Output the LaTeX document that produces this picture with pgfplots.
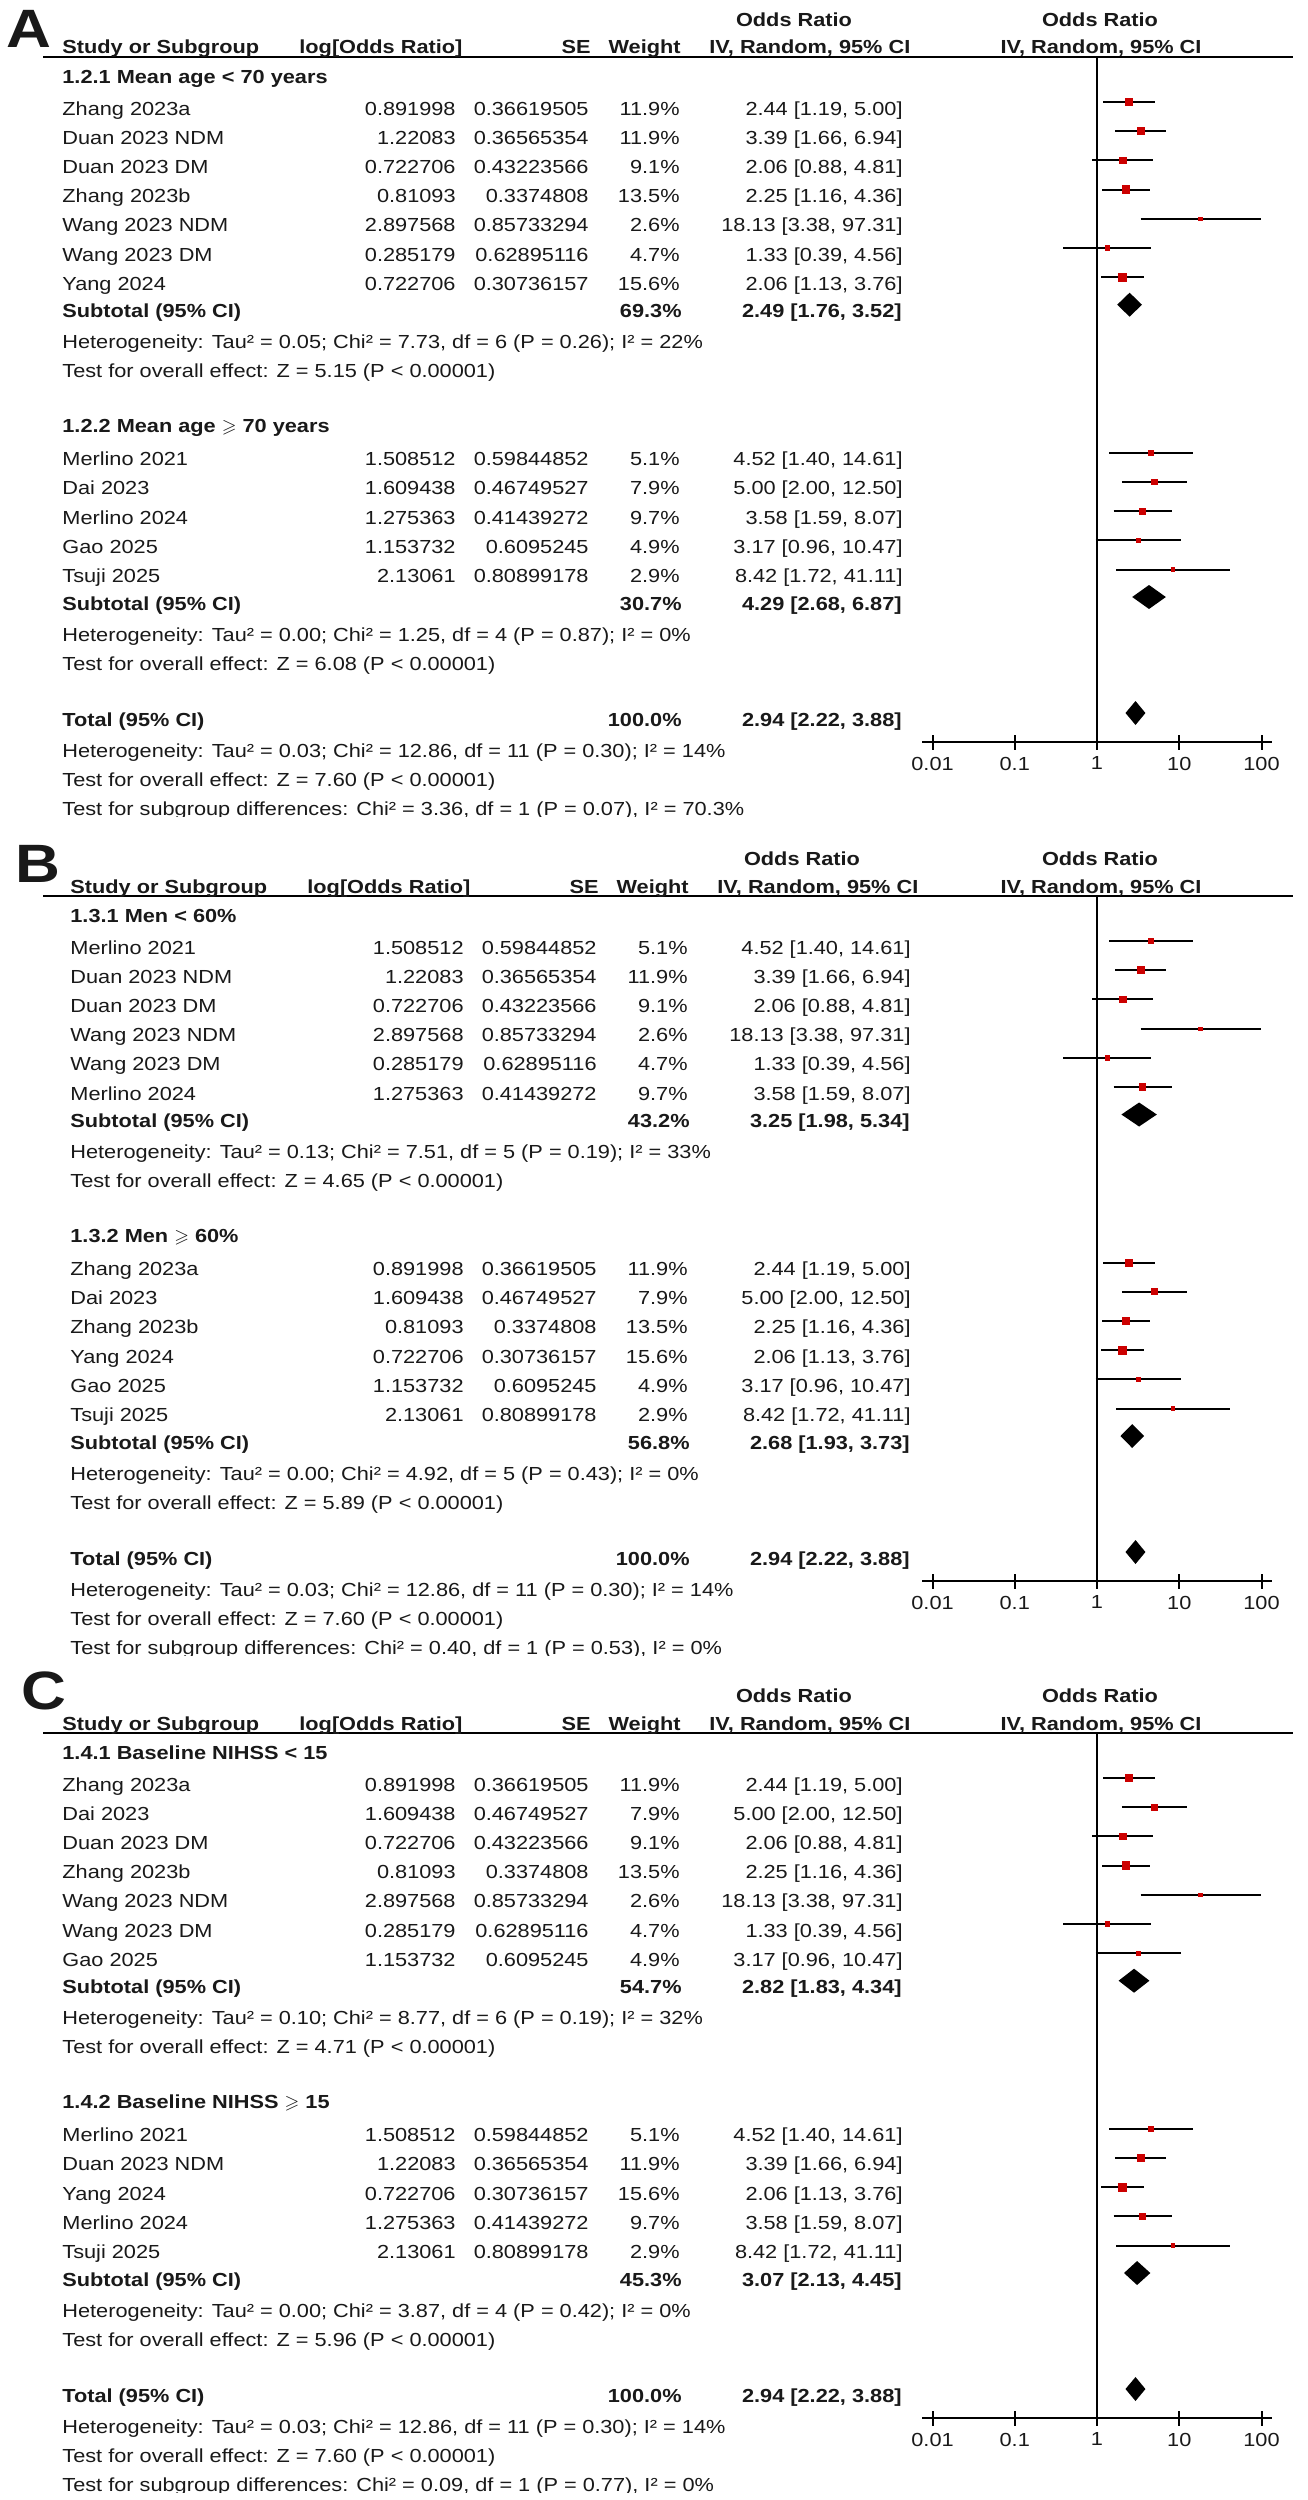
\documentclass[border=0pt]{standalone}
\usepackage{fontspec}
\setmainfont{Liberation Sans}[FakeStretch=1.15]
\usepackage{amssymb}
\usepackage{pgfplots}
\pgfplotsset{compat=1.18}

\definecolor{orred}{RGB}{204,0,0}
\definecolor{txt}{RGB}{25,25,25}
\newcommand{\fs}{\fontsize{9.45}{11}\selectfont}
\newcommand{\gsl}{\ensuremath{\geqslant}}

% text helpers, coordinates in pixels of the reference (y downwards)
\newcommand{\putl}[3]{\node[anchor=base west] at (#1,#2) {#3};}
\newcommand{\putr}[3]{\node[anchor=base east] at (#1,#2) {#3};}
\newcommand{\study}[6]{%
  \putl{62}{#1}{#2}\putr{456}{#1}{#3}\putr{589}{#1}{#4}%
  \putr{680}{#1}{#5\%}\putr{903}{#1}{#6}}
\newcommand{\subrow}[4]{%
  \putl{62}{#1}{\bfseries #2}\putr{682}{#1}{\bfseries #3}\putr{902}{#1}{\bfseries #4}}
\newcommand{\panelhead}[5]{% letter, letter x, letter baseline, U, dx
  \node[anchor=base west,font=\bfseries\fontsize{27}{27}\selectfont] at (#2,#3) {#1};
  \draw[line width=1pt] (43,#4) -- (1293,#4);
  \node[anchor=base,font=\fs\bfseries] at (1100,#4-31) {Odds Ratio};
  \node[anchor=base,font=\fs\bfseries] at (1101,#4-3) {IV, Random, 95\% CI};
  \begin{scope}[shift={(#5,#4)}]
    \putl{62}{-3}{\bfseries Study or Subgroup}
    \putl{299}{-3}{\bfseries log[Odds Ratio]}
    \putr{591}{-3}{\bfseries SE}
    \putr{681}{-3}{\bfseries Weight}
    \putl{709}{-3}{\bfseries IV, Random, 95\% CI}
    \node[anchor=base,font=\fs\bfseries] at (794,-31) {Odds Ratio};
  \end{scope}}
\newcommand{\lastline}[1]{%
  \begin{scope}\clip (0,700) rectangle (1307,759.5);
  \putl{62}{758}{#1}\end{scope}}

% common settings of the three forest plots
\pgfplotsset{
  scale only axis, width=175pt, height=342.5pt,
  xmin=0.00745, xmax=134.2, enlargelimits=false, clip=false,
  axis x line*=bottom, axis y line=none, ytick=\empty,
  xtick={0.01,0.1,1,10,100}, xticklabels={0.01,0.1,1,10,100},
  tick align=center, major tick length=7.5pt,
  every tick/.style={black, line width=1pt},
  axis line style={black, line width=1pt},
  xticklabel style={font=\fs, text=txt, inner sep=0pt, anchor=north, yshift=-3.5pt},
  ci/.style={black, line width=1pt, no markers},
  sq/.style={only marks, color=orred, mark=square*, mark options={fill=orred, draw=none}},
  dia/.style={fill=black, draw=none, no markers}}

\begin{document}
\begin{tikzpicture}
\begin{scope}[x=0.5pt, y=-0.5pt, every node/.style={inner sep=0pt, text=txt}, font=\fs]
\fill[white] (0,0) rectangle (1307,2500);
\path[use as bounding box] (0,0) rectangle (1307,2500);

% ---------------- A ----------------
\panelhead{A}{6}{47}{57}{0}
\begin{scope}[shift={(0,57)}]
\putl{62}{26}{\bfseries 1.2.1 Mean age < 70 years}
\study{58}{Zhang 2023a}{0.891998}{0.36619505}{11.9}{2.44 [1.19, 5.00]}
\study{87.2}{Duan 2023 NDM}{1.22083}{0.36565354}{11.9}{3.39 [1.66, 6.94]}
\study{116.4}{Duan 2023 DM}{0.722706}{0.43223566}{9.1}{2.06 [0.88, 4.81]}
\study{145.6}{Zhang 2023b}{0.81093}{0.3374808}{13.5}{2.25 [1.16, 4.36]}
\study{174.8}{Wang 2023 NDM}{2.897568}{0.85733294}{2.6}{18.13 [3.38, 97.31]}
\study{204}{Wang 2023 DM}{0.285179}{0.62895116}{4.7}{1.33 [0.39, 4.56]}
\study{233.2}{Yang 2024}{0.722706}{0.30736157}{15.6}{2.06 [1.13, 3.76]}
\subrow{260.7}{Subtotal (95\% CI)}{69.3\%}{2.49 [1.76, 3.52]}
\putl{62}{291.7}{Heterogeneity: Tau² = 0.05; Chi² = 7.73, df = 6 (P = 0.26); I² = 22\%}
\putl{62}{320.7}{Test for overall effect: Z = 5.15 (P < 0.00001)}
\putl{62}{375.7}{\bfseries 1.2.2 Mean age \gsl{} 70 years}
\study{408.7}{Merlino 2021}{1.508512}{0.59844852}{5.1}{4.52 [1.40, 14.61]}
\study{437.9}{Dai 2023}{1.609438}{0.46749527}{7.9}{5.00 [2.00, 12.50]}
\study{467.1}{Merlino 2024}{1.275363}{0.41439272}{9.7}{3.58 [1.59, 8.07]}
\study{496.3}{Gao 2025}{1.153732}{0.6095245}{4.9}{3.17 [0.96, 10.47]}
\study{525.5}{Tsuji 2025}{2.13061}{0.80899178}{2.9}{8.42 [1.72, 41.11]}
\subrow{553}{Subtotal (95\% CI)}{30.7\%}{4.29 [2.68, 6.87]}
\putl{62}{584}{Heterogeneity: Tau² = 0.00; Chi² = 1.25, df = 4 (P = 0.87); I² = 0\%}
\putl{62}{613}{Test for overall effect: Z = 6.08 (P < 0.00001)}
\subrow{669}{Total (95\% CI)}{100.0\%}{2.94 [2.22, 3.88]}
\putl{62}{700}{Heterogeneity: Tau² = 0.03; Chi² = 12.86, df = 11 (P = 0.30); I² = 14\%}
\putl{62}{729}{Test for overall effect: Z = 7.60 (P < 0.00001)}
\lastline{Test for subgroup differences: Chi² = 3.36, df = 1 (P = 0.07), I² = 70.3\%}
\end{scope}

% ---------------- B ----------------
\panelhead{B}{15}{882}{896}{8}
\begin{scope}[shift={(8,896)}]
\putl{62}{26}{\bfseries 1.3.1 Men < 60\%}
\study{58}{Merlino 2021}{1.508512}{0.59844852}{5.1}{4.52 [1.40, 14.61]}
\study{87.2}{Duan 2023 NDM}{1.22083}{0.36565354}{11.9}{3.39 [1.66, 6.94]}
\study{116.4}{Duan 2023 DM}{0.722706}{0.43223566}{9.1}{2.06 [0.88, 4.81]}
\study{145.6}{Wang 2023 NDM}{2.897568}{0.85733294}{2.6}{18.13 [3.38, 97.31]}
\study{174.8}{Wang 2023 DM}{0.285179}{0.62895116}{4.7}{1.33 [0.39, 4.56]}
\study{204}{Merlino 2024}{1.275363}{0.41439272}{9.7}{3.58 [1.59, 8.07]}
\subrow{231.5}{Subtotal (95\% CI)}{43.2\%}{3.25 [1.98, 5.34]}
\putl{62}{262.5}{Heterogeneity: Tau² = 0.13; Chi² = 7.51, df = 5 (P = 0.19); I² = 33\%}
\putl{62}{291.5}{Test for overall effect: Z = 4.65 (P < 0.00001)}
\putl{62}{346.5}{\bfseries 1.3.2 Men \gsl{} 60\%}
\study{379.5}{Zhang 2023a}{0.891998}{0.36619505}{11.9}{2.44 [1.19, 5.00]}
\study{408.7}{Dai 2023}{1.609438}{0.46749527}{7.9}{5.00 [2.00, 12.50]}
\study{437.9}{Zhang 2023b}{0.81093}{0.3374808}{13.5}{2.25 [1.16, 4.36]}
\study{467.1}{Yang 2024}{0.722706}{0.30736157}{15.6}{2.06 [1.13, 3.76]}
\study{496.3}{Gao 2025}{1.153732}{0.6095245}{4.9}{3.17 [0.96, 10.47]}
\study{525.5}{Tsuji 2025}{2.13061}{0.80899178}{2.9}{8.42 [1.72, 41.11]}
\subrow{553}{Subtotal (95\% CI)}{56.8\%}{2.68 [1.93, 3.73]}
\putl{62}{584}{Heterogeneity: Tau² = 0.00; Chi² = 4.92, df = 5 (P = 0.43); I² = 0\%}
\putl{62}{613}{Test for overall effect: Z = 5.89 (P < 0.00001)}
\subrow{669}{Total (95\% CI)}{100.0\%}{2.94 [2.22, 3.88]}
\putl{62}{700}{Heterogeneity: Tau² = 0.03; Chi² = 12.86, df = 11 (P = 0.30); I² = 14\%}
\putl{62}{729}{Test for overall effect: Z = 7.60 (P < 0.00001)}
\lastline{Test for subgroup differences: Chi² = 0.40, df = 1 (P = 0.53), I² = 0\%}
\end{scope}

% ---------------- C ----------------
\panelhead{C}{21}{1709}{1733}{0}
\begin{scope}[shift={(0,1733)}]
\putl{62}{26}{\bfseries 1.4.1 Baseline NIHSS < 15}
\study{58}{Zhang 2023a}{0.891998}{0.36619505}{11.9}{2.44 [1.19, 5.00]}
\study{87.2}{Dai 2023}{1.609438}{0.46749527}{7.9}{5.00 [2.00, 12.50]}
\study{116.4}{Duan 2023 DM}{0.722706}{0.43223566}{9.1}{2.06 [0.88, 4.81]}
\study{145.6}{Zhang 2023b}{0.81093}{0.3374808}{13.5}{2.25 [1.16, 4.36]}
\study{174.8}{Wang 2023 NDM}{2.897568}{0.85733294}{2.6}{18.13 [3.38, 97.31]}
\study{204}{Wang 2023 DM}{0.285179}{0.62895116}{4.7}{1.33 [0.39, 4.56]}
\study{233.2}{Gao 2025}{1.153732}{0.6095245}{4.9}{3.17 [0.96, 10.47]}
\subrow{260.7}{Subtotal (95\% CI)}{54.7\%}{2.82 [1.83, 4.34]}
\putl{62}{291.7}{Heterogeneity: Tau² = 0.10; Chi² = 8.77, df = 6 (P = 0.19); I² = 32\%}
\putl{62}{320.7}{Test for overall effect: Z = 4.71 (P < 0.00001)}
\putl{62}{375.7}{\bfseries 1.4.2 Baseline NIHSS \gsl{} 15}
\study{408.7}{Merlino 2021}{1.508512}{0.59844852}{5.1}{4.52 [1.40, 14.61]}
\study{437.9}{Duan 2023 NDM}{1.22083}{0.36565354}{11.9}{3.39 [1.66, 6.94]}
\study{467.1}{Yang 2024}{0.722706}{0.30736157}{15.6}{2.06 [1.13, 3.76]}
\study{496.3}{Merlino 2024}{1.275363}{0.41439272}{9.7}{3.58 [1.59, 8.07]}
\study{525.5}{Tsuji 2025}{2.13061}{0.80899178}{2.9}{8.42 [1.72, 41.11]}
\subrow{553}{Subtotal (95\% CI)}{45.3\%}{3.07 [2.13, 4.45]}
\putl{62}{584}{Heterogeneity: Tau² = 0.00; Chi² = 3.87, df = 4 (P = 0.42); I² = 0\%}
\putl{62}{613}{Test for overall effect: Z = 5.96 (P < 0.00001)}
\subrow{669}{Total (95\% CI)}{100.0\%}{2.94 [2.22, 3.88]}
\putl{62}{700}{Heterogeneity: Tau² = 0.03; Chi² = 12.86, df = 11 (P = 0.30); I² = 14\%}
\putl{62}{729}{Test for overall effect: Z = 7.60 (P < 0.00001)}
\lastline{Test for subgroup differences: Chi² = 0.09, df = 1 (P = 0.77), I² = 0\%}
\end{scope}
\end{scope}

% ---------------- forest plot A ----------------
\begin{semilogxaxis}[at={(461pt,-371pt)}, anchor=south west, ymin=-742, ymax=-57, xminorticks=false]
\addplot[black, line width=1pt] coordinates {(1,-57) (1,-742)};
\addplot[ci] coordinates {(1.19,-102) (5.00,-102)};
\addplot[sq, mark size=1.76pt] coordinates {(2.44,-102)};
\addplot[ci] coordinates {(1.66,-131.2) (6.94,-131.2)};
\addplot[sq, mark size=1.76pt] coordinates {(3.39,-131.2)};
\addplot[ci] coordinates {(0.88,-160.4) (4.81,-160.4)};
\addplot[sq, mark size=1.54pt] coordinates {(2.06,-160.4)};
\addplot[ci] coordinates {(1.16,-189.6) (4.36,-189.6)};
\addplot[sq, mark size=1.87pt] coordinates {(2.25,-189.6)};
\addplot[ci] coordinates {(3.38,-218.8) (97.31,-218.8)};
\addplot[sq, mark size=0.82pt] coordinates {(18.13,-218.8)};
\addplot[ci] coordinates {(0.39,-248) (4.56,-248)};
\addplot[sq, mark size=1.11pt] coordinates {(1.33,-248)};
\addplot[ci] coordinates {(1.13,-277.2) (3.76,-277.2)};
\addplot[sq, mark size=2.01pt] coordinates {(2.06,-277.2)};
\addplot[dia] coordinates {(1.76,-304.7) (2.49,-292.7) (3.52,-304.7) (2.49,-316.7)} -- cycle;
\addplot[ci] coordinates {(1.40,-452.7) (14.61,-452.7)};
\addplot[sq, mark size=1.15pt] coordinates {(4.52,-452.7)};
\addplot[ci] coordinates {(2.00,-481.9) (12.50,-481.9)};
\addplot[sq, mark size=1.43pt] coordinates {(5.00,-481.9)};
\addplot[ci] coordinates {(1.59,-511.1) (8.07,-511.1)};
\addplot[sq, mark size=1.59pt] coordinates {(3.58,-511.1)};
\addplot[ci] coordinates {(0.96,-540.3) (10.47,-540.3)};
\addplot[sq, mark size=1.13pt] coordinates {(3.17,-540.3)};
\addplot[ci] coordinates {(1.72,-569.5) (41.11,-569.5)};
\addplot[sq, mark size=0.87pt] coordinates {(8.42,-569.5)};
\addplot[dia] coordinates {(2.68,-597) (4.29,-585) (6.87,-597) (4.29,-609)} -- cycle;
\addplot[dia] coordinates {(2.22,-713) (2.94,-701) (3.88,-713) (2.94,-725)} -- cycle;
\end{semilogxaxis}

% ---------------- forest plot B ----------------
\begin{semilogxaxis}[at={(461pt,-790.5pt)}, anchor=south west, ymin=-1581, ymax=-896, xminorticks=false]
\addplot[black, line width=1pt] coordinates {(1,-896) (1,-1581)};
\addplot[ci] coordinates {(1.40,-941) (14.61,-941)};
\addplot[sq, mark size=1.15pt] coordinates {(4.52,-941)};
\addplot[ci] coordinates {(1.66,-970.2) (6.94,-970.2)};
\addplot[sq, mark size=1.76pt] coordinates {(3.39,-970.2)};
\addplot[ci] coordinates {(0.88,-999.4) (4.81,-999.4)};
\addplot[sq, mark size=1.54pt] coordinates {(2.06,-999.4)};
\addplot[ci] coordinates {(3.38,-1028.6) (97.31,-1028.6)};
\addplot[sq, mark size=0.82pt] coordinates {(18.13,-1028.6)};
\addplot[ci] coordinates {(0.39,-1057.8) (4.56,-1057.8)};
\addplot[sq, mark size=1.11pt] coordinates {(1.33,-1057.8)};
\addplot[ci] coordinates {(1.59,-1087) (8.07,-1087)};
\addplot[sq, mark size=1.59pt] coordinates {(3.58,-1087)};
\addplot[dia] coordinates {(1.98,-1114.5) (3.25,-1102.5) (5.34,-1114.5) (3.25,-1126.5)} -- cycle;
\addplot[ci] coordinates {(1.19,-1262.5) (5.00,-1262.5)};
\addplot[sq, mark size=1.76pt] coordinates {(2.44,-1262.5)};
\addplot[ci] coordinates {(2.00,-1291.7) (12.50,-1291.7)};
\addplot[sq, mark size=1.43pt] coordinates {(5.00,-1291.7)};
\addplot[ci] coordinates {(1.16,-1320.9) (4.36,-1320.9)};
\addplot[sq, mark size=1.87pt] coordinates {(2.25,-1320.9)};
\addplot[ci] coordinates {(1.13,-1350.1) (3.76,-1350.1)};
\addplot[sq, mark size=2.01pt] coordinates {(2.06,-1350.1)};
\addplot[ci] coordinates {(0.96,-1379.3) (10.47,-1379.3)};
\addplot[sq, mark size=1.13pt] coordinates {(3.17,-1379.3)};
\addplot[ci] coordinates {(1.72,-1408.5) (41.11,-1408.5)};
\addplot[sq, mark size=0.87pt] coordinates {(8.42,-1408.5)};
\addplot[dia] coordinates {(1.93,-1436) (2.68,-1424) (3.73,-1436) (2.68,-1448)} -- cycle;
\addplot[dia] coordinates {(2.22,-1552) (2.94,-1540) (3.88,-1552) (2.94,-1564)} -- cycle;
\end{semilogxaxis}

% ---------------- forest plot C ----------------
\begin{semilogxaxis}[at={(461pt,-1209pt)}, anchor=south west, ymin=-2418, ymax=-1733, xminorticks=false]
\addplot[black, line width=1pt] coordinates {(1,-1733) (1,-2418)};
\addplot[ci] coordinates {(1.19,-1778) (5.00,-1778)};
\addplot[sq, mark size=1.76pt] coordinates {(2.44,-1778)};
\addplot[ci] coordinates {(2.00,-1807.2) (12.50,-1807.2)};
\addplot[sq, mark size=1.43pt] coordinates {(5.00,-1807.2)};
\addplot[ci] coordinates {(0.88,-1836.4) (4.81,-1836.4)};
\addplot[sq, mark size=1.54pt] coordinates {(2.06,-1836.4)};
\addplot[ci] coordinates {(1.16,-1865.6) (4.36,-1865.6)};
\addplot[sq, mark size=1.87pt] coordinates {(2.25,-1865.6)};
\addplot[ci] coordinates {(3.38,-1894.8) (97.31,-1894.8)};
\addplot[sq, mark size=0.82pt] coordinates {(18.13,-1894.8)};
\addplot[ci] coordinates {(0.39,-1924) (4.56,-1924)};
\addplot[sq, mark size=1.11pt] coordinates {(1.33,-1924)};
\addplot[ci] coordinates {(0.96,-1953.2) (10.47,-1953.2)};
\addplot[sq, mark size=1.13pt] coordinates {(3.17,-1953.2)};
\addplot[dia] coordinates {(1.83,-1980.7) (2.82,-1968.7) (4.34,-1980.7) (2.82,-1992.7)} -- cycle;
\addplot[ci] coordinates {(1.40,-2128.7) (14.61,-2128.7)};
\addplot[sq, mark size=1.15pt] coordinates {(4.52,-2128.7)};
\addplot[ci] coordinates {(1.66,-2157.9) (6.94,-2157.9)};
\addplot[sq, mark size=1.76pt] coordinates {(3.39,-2157.9)};
\addplot[ci] coordinates {(1.13,-2187.1) (3.76,-2187.1)};
\addplot[sq, mark size=2.01pt] coordinates {(2.06,-2187.1)};
\addplot[ci] coordinates {(1.59,-2216.3) (8.07,-2216.3)};
\addplot[sq, mark size=1.59pt] coordinates {(3.58,-2216.3)};
\addplot[ci] coordinates {(1.72,-2245.5) (41.11,-2245.5)};
\addplot[sq, mark size=0.87pt] coordinates {(8.42,-2245.5)};
\addplot[dia] coordinates {(2.13,-2273) (3.07,-2261) (4.45,-2273) (3.07,-2285)} -- cycle;
\addplot[dia] coordinates {(2.22,-2389) (2.94,-2377) (3.88,-2389) (2.94,-2401)} -- cycle;
\end{semilogxaxis}
\end{tikzpicture}
\end{document}
